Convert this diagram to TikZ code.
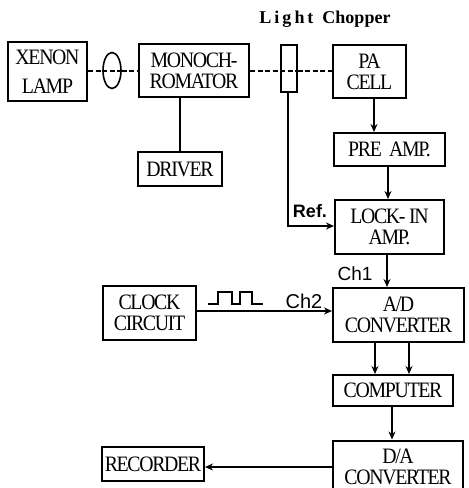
\documentclass[tikz,border=0pt]{standalone}
\usepackage{fontspec}
\setmainfont{Liberation Serif}
\setsansfont{Liberation Sans}
\usetikzlibrary{shapes.geometric,arrows.meta}
\newfontfamily\tightfont[LetterSpace=-6,FakeStretch=0.9]{Liberation Serif}
\tikzset{
  blk/.style={draw,line width=2pt,inner sep=0pt,align=center,font=\tightfont\fontsize{22}{21}\selectfont},
  lbl/.style={inner sep=0pt,font=\sffamily\fontsize{19}{20}\selectfont},
  wire/.style={line width=1.5pt},
  arr/.style={wire,-{Stealth[length=8pt,width=7pt]}},
  beam/.style={line width=2pt,dash pattern=on 5pt off 2.5pt},
}
\begin{document}
\begin{tikzpicture}[x=1pt,y=1pt]
\useasboundingbox (0,0) rectangle (469,-488);
\clip (0,0) rectangle (469,-488);
\node[blk,minimum width=79pt,minimum height=59pt] (xenon) at (47.5,-71.5) {XENON\\[8pt]LAMP};
\node[blk,minimum width=110pt,minimum height=53pt] (mono) at (194,-70.5) {MONOCH-\\ROMATOR};
\node[draw,line width=1.6pt,ellipse,inner sep=0pt,minimum width=18pt,minimum height=36pt] (lens) at (112,-70.5) {};
\node[draw,line width=1.6pt,inner sep=0pt,minimum width=16pt,minimum height=47pt] (chop) at (289,-68.5) {};
\node[blk,minimum width=73pt,minimum height=53pt] (pa) at (369.5,-71.5) {PA\\CELL};
\node[blk,minimum width=111pt,minimum height=33pt] (pre) at (389.5,-149.5) {PRE\ \ AMP.};
\node[blk,minimum width=109pt,minimum height=54pt] (lock) at (389.5,-227) {LOCK- IN\\AMP.};
\node[blk,minimum width=84pt,minimum height=34pt] (driver) at (180,-169) {DRIVER};
\node[blk,minimum width=93pt,minimum height=54pt] (clock) at (149.5,-313) {CLOCK\\CIRCUIT};
\node[blk,minimum width=131pt,minimum height=54pt] (ad) at (398.5,-315) {A/D\\CONVERTER};
\node[blk,minimum width=120pt,minimum height=31pt] (comp) at (393,-390.5) {COMPUTER};
\node[blk,minimum width=130pt,minimum height=52pt] (da) at (398,-466.5) {D/A\\CONVERTER};
\node[blk,minimum width=102pt,minimum height=34pt] (rec) at (153,-464) {RECORDER};
\node[inner sep=0pt,font=\bfseries\fontsize{18}{19}\selectfont,anchor=center] (title) at (325,-19) {L\,i\,g\,h\,t\ \ Chopper};
\node[lbl,font=\sffamily\bfseries\fontsize{18}{19}\selectfont] (ref) at (310,-211) {Ref.};
\node[lbl] (ch1) at (355,-274) {Ch1};
\node[lbl,font=\sffamily\fontsize{20}{21}\selectfont] (ch2) at (304,-301) {Ch2};
% beam
\draw[beam] (xenon.east |- mono.west) -- (lens.west);
\draw[beam] (lens.west) -- (lens.east);
\draw[beam] (lens.east) -- (mono.west);
\draw[beam] (mono.east) -- (mono.east -| chop.west);
\draw[beam] (mono.east -| chop.west) -- (mono.east -| chop.east);
\draw[beam] (mono.east -| chop.east) -- (mono.east -| pa.west);
% connectors
\draw[wire] (mono.south -| driver.north) -- (driver.north);
\draw[arr] ([xshift=-1pt]chop.south) |- ([yshift=1pt]lock.west);
\draw[arr] ([xshift=4.5pt]pa.south) -- ([xshift=4.5pt]pa.south |- pre.north);
\draw[arr] ([xshift=-1.5pt]pre.south) -- ([xshift=-1.5pt]pre.south |- lock.north);
\draw[arr] ([xshift=-2.5pt]lock.south) -- ([xshift=-2.5pt]lock.south |- ad.north);
\draw[arr] ([yshift=2pt]clock.east) -- ([yshift=2pt]clock.east -| ad.west);
\draw[arr] ([xshift=-23.5pt]ad.south) -- ([xshift=-23.5pt]ad.south |- comp.north);
\draw[arr] ([xshift=10.5pt]ad.south) -- ([xshift=10.5pt]ad.south |- comp.north);
\draw[arr] ([xshift=-1pt]comp.south) -- ([xshift=-1pt]comp.south |- da.north);
\draw[arr] (da.west |- 0,-467) -- (rec.east |- 0,-467);
% pulse train
\coordinate (w0) at (208,-304);
\coordinate (w1) at (263,-304);
\draw[line width=1.5pt] (w0) -- ++(10,0) |- ++(14,12) |- ++(8,-12) |- ++(12,12) |- (w1);
\end{tikzpicture}
\end{document}
